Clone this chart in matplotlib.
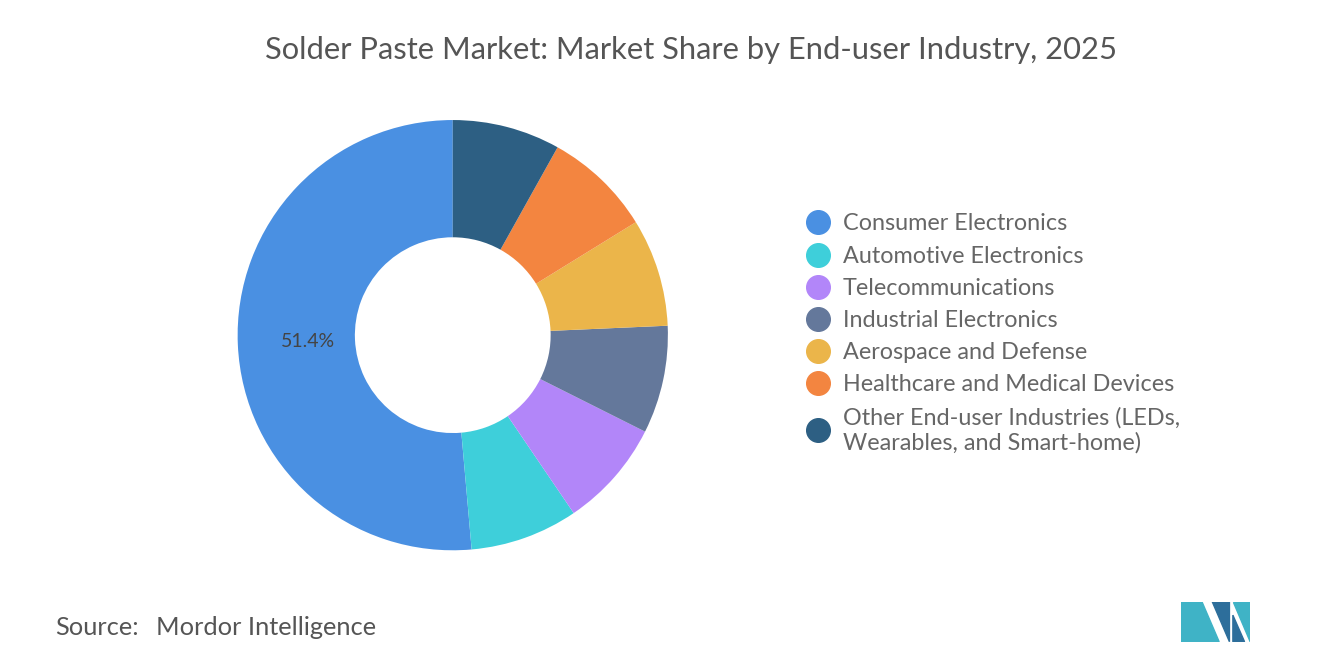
import matplotlib.pyplot as plt
from matplotlib.patches import Polygon

labels = ["Consumer Electronics", "Automotive Electronics", "Telecommunications",
          "Industrial Electronics", "Aerospace and Defense",
          "Healthcare and Medical Devices",
          "Other End-user Industries (LEDs,\nWearables, and Smart-home)"]
shares = [51.4, 8.1, 8.1, 8.1, 8.1, 8.1, 8.1]
colors = ["#4a90e2", "#3ecfda", "#b286f9", "#64789b", "#ebb54a", "#f38540", "#2d5f83"]

plt.rcParams['font.family'] = ['Lato', 'DejaVu Sans']
fig = plt.figure(figsize=(13.2, 6.65), dpi=100)

ax = fig.add_axes([0.343 - 0.163, 0.496 - 0.3235, 0.326, 0.647])
wedges, _ = ax.pie(shares, colors=colors, startangle=90, counterclock=True,
                   wedgeprops=dict(width=0.545, edgecolor='white', linewidth=0))
ax.set_xlim(-1, 1); ax.set_ylim(-1, 1)
ax.set_aspect('equal')
ax.text(-0.675, -0.03, "51.4%", ha='center', va='center', fontsize=14, color='#444444')

fig.text(0.5235, 0.925, "Solder Paste Market: Market Share by End-user Industry, 2025",
         ha='center', va='center', fontsize=22.2, color='#555555')

handles = [plt.Line2D([], [], marker='o', linestyle='', markersize=17, color=c) for c in colors]
fig.legend(handles, labels, loc='upper left', bbox_to_anchor=(0.595, 0.693),
           frameon=False, fontsize=16.8, handletextpad=0.05, labelspacing=0.48,
           labelcolor='#666666', borderaxespad=0)

fig.text(0.042, 0.057, "Source:", fontsize=18.3, color='#555555', va='center')
fig.text(0.118, 0.057, "Mordor Intelligence", fontsize=18.3, color='#555555', va='center')

# simple logo
lax = fig.add_axes([0.895, 0.035, 0.052, 0.06])
lax.set_xlim(0, 10); lax.set_ylim(0, 6); lax.axis('off')
lax.add_patch(Polygon([[0, 0], [0, 6], [3, 6], [5.5, 0]], color='#3fb3c6'))
lax.add_patch(Polygon([[4.5, 6], [7, 0], [7, 6]], color='#2d6e9b'))
lax.add_patch(Polygon([[7.5, 6], [10, 6], [10, 0]], color='#3fb3c6'))
lax.add_patch(Polygon([[7.5, 0], [7.5, 4], [9.2, 0]], color='#2d6e9b'))

fig.savefig("out.png", dpi=100)
